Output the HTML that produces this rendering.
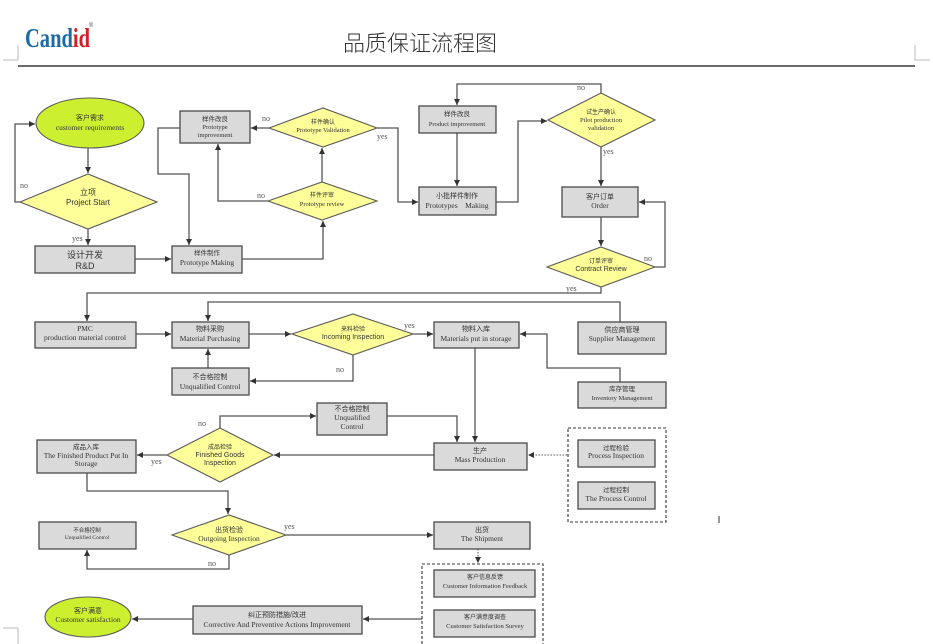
<!DOCTYPE html>
<html><head><meta charset="utf-8"><style>
html,body{margin:0;padding:0;background:#fff;}
svg{display:block;}
.b{fill:#dadada;stroke:#4a4a4a;stroke-width:1.3;}
.d{fill:#ffff99;stroke:#5a5a5a;stroke-width:1.1;}
.e{fill:#ccf030;stroke:#5a5a5a;stroke-width:1.1;}
.l{fill:none;stroke:#555;stroke-width:1.3;}
.dot{fill:none;stroke:#777;stroke-width:1.3;stroke-dasharray:1.5 1.5;}
.dash{fill:none;stroke:#333;stroke-width:1.1;stroke-dasharray:3 2;}
text{fill:#333;text-anchor:middle;}
.c{font-family:"Liberation Sans","Noto Sans CJK SC",sans-serif;font-size:7px;}
.s{font-family:"Liberation Serif","Noto Serif CJK SC",serif;font-size:7.5px;}
.a{font-family:"Liberation Sans",sans-serif;font-size:7px;}
.lb{font-family:"Liberation Serif",serif;font-size:8px;fill:#555;text-anchor:start;}
</style></head><body>
<svg width="933" height="644" viewBox="0 0 933 644" xmlns="http://www.w3.org/2000/svg">
<defs>
<marker id="ar" markerUnits="userSpaceOnUse" markerWidth="7" markerHeight="6" refX="6" refY="3" orient="auto"><path d="M0,0 L6,3 L0,6 z" fill="#333"/></marker>
</defs>

<!-- header -->
<text x="25" y="47" style="font-family:'Liberation Serif',serif;font-weight:bold;font-size:27px;text-anchor:start;fill:#1d6aa5" transform="translate(25,0) scale(0.76,1) translate(-25,0)">Cand<tspan fill="#d0202a">id</tspan></text>
<text x="91" y="27" style="font-family:'Liberation Sans',sans-serif;font-size:6px;fill:#555">®</text>
<text x="420" y="51" style="font-family:'Noto Sans CJK SC',sans-serif;font-size:22px;fill:#333;font-weight:300">品质保证流程图</text>
<line x1="18" y1="66" x2="915" y2="66" stroke="#6a6a6a" stroke-width="2"/>
<path d="M18,45 V60 H3" fill="none" stroke="#bbb" stroke-width="1"/>
<path d="M915,45 V60 H930" fill="none" stroke="#bbb" stroke-width="1"/>
<path d="M3,628 H18 V644" fill="none" stroke="#bbb" stroke-width="1"/>
<line x1="719" y1="516" x2="719" y2="523" stroke="#333" stroke-width="1"/>

<!-- connectors -->
<path class="l" d="M88,148 V173" marker-end="url(#ar)"/>
<path class="l" d="M20,202 H15 V124 H35" marker-end="url(#ar)"/>
<path class="l" d="M88,229 V245" marker-end="url(#ar)"/>
<path class="l" d="M135,259 H171" marker-end="url(#ar)"/>
<path class="l" d="M242,259 H323 V221" marker-end="url(#ar)"/>
<path class="l" d="M322,182 V148" marker-end="url(#ar)"/>
<path class="l" d="M268,201 H218 V144" marker-end="url(#ar)"/>
<path class="l" d="M269,128 H251" marker-end="url(#ar)"/>
<path class="l" d="M180,128 H158 V174 H189 V245" marker-end="url(#ar)"/>
<path class="l" d="M377,128 H398 V202 H418" marker-end="url(#ar)"/>
<path class="l" d="M457,133 V186" marker-end="url(#ar)"/>
<path class="l" d="M601,93 V84 H457 V105" marker-end="url(#ar)"/>
<path class="l" d="M496,202 H518 V121 H547" marker-end="url(#ar)"/>
<path class="l" d="M601,147 V186" marker-end="url(#ar)"/>
<path class="l" d="M601,217 V246" marker-end="url(#ar)"/>
<path class="l" d="M655,267 H665 V202 H639" marker-end="url(#ar)"/>
<path class="l" d="M601,287 V293 H87 V321" marker-end="url(#ar)"/>
<path class="l" d="M620,322 V302 H208 V321" marker-end="url(#ar)"/>
<path class="l" d="M136,334 H171" marker-end="url(#ar)"/>
<path class="l" d="M249,334 H291" marker-end="url(#ar)"/>
<path class="l" d="M413,334 H433" marker-end="url(#ar)"/>
<path class="l" d="M353,355 V381 H250" marker-end="url(#ar)"/>
<path class="l" d="M208,368 V349" marker-end="url(#ar)"/>
<path class="l" d="M620,382 V368 H547 V334 H520" marker-end="url(#ar)"/>
<path class="l" d="M475,348 V442" marker-end="url(#ar)"/>
<path class="l" d="M387,416 H457 V442" marker-end="url(#ar)"/>
<path class="l" d="M220,428 V416 H316" marker-end="url(#ar)"/>
<path class="l" d="M434,455 H274" marker-end="url(#ar)"/>
<path class="l" d="M167,455 H137" marker-end="url(#ar)"/>
<path class="dot" d="M567,455 H528" marker-end="url(#ar)"/>
<path class="l" d="M87,473 V491 H228 V514" marker-end="url(#ar)"/>
<path class="l" d="M286,535 H433" marker-end="url(#ar)"/>
<path class="l" d="M229,555 V569 H87 V550" marker-end="url(#ar)"/>
<path class="dot" d="M478,549 V563" marker-end="url(#ar)"/>
<path class="l" d="M422,619 H363" marker-end="url(#ar)"/>
<path class="l" d="M193,619 H132" marker-end="url(#ar)"/>

<!-- connector labels -->
<text class="lb" x="20" y="188">no</text>
<text class="lb" x="72" y="241">yes</text>
<text class="lb" x="257" y="198">no</text>
<text class="lb" x="262" y="121">no</text>
<text class="lb" x="377" y="139">yes</text>
<text class="lb" x="577" y="90">no</text>
<text class="lb" x="603" y="154">yes</text>
<text class="lb" x="644" y="261">no</text>
<text class="lb" x="566" y="291">yes</text>
<text class="lb" x="404" y="328">yes</text>
<text class="lb" x="336" y="372">no</text>
<text class="lb" x="198" y="426">no</text>
<text class="lb" x="151" y="464">yes</text>
<text class="lb" x="284" y="529">yes</text>
<text class="lb" x="208" y="566">no</text>

<!-- ellipses -->
<ellipse class="e" cx="90" cy="123" rx="54" ry="25"/>
<text class="c" x="90" y="120">客户需求</text>
<text class="s" x="90" y="130">customer requirements</text>
<ellipse class="e" cx="88" cy="617" rx="43" ry="20"/>
<text class="c" x="88" y="613">客户满意</text>
<text class="s" x="88" y="622">Customer satisfaction</text>

<!-- diamonds -->
<polygon class="d" points="20,202 88,174 157,202 88,229"/>
<text class="c" x="88" y="195" style="font-size:8px">立项</text>
<text class="a" x="88" y="205" style="font-size:8px">Project Start</text>
<polygon class="d" points="269,128 323,108 377,128 323,147"/>
<text class="c" x="323" y="124" style="font-size:6px">样件确认</text>
<text class="s" x="323" y="132" style="font-size:6.5px">Prototype Validation</text>
<polygon class="d" points="268,201 322,182 377,201 322,220"/>
<text class="c" x="322" y="197" style="font-size:6px">样件评审</text>
<text class="s" x="322" y="206" style="font-size:6.5px">Prototype review</text>
<polygon class="d" points="548,120 601,93 655,120 601,147"/>
<text class="c" x="601" y="114" style="font-size:6px">试生产确认</text>
<text class="s" x="601" y="122" style="font-size:6.5px">Pilot production</text>
<text class="s" x="601" y="130" style="font-size:6.5px">validation</text>
<polygon class="d" points="547,267 601,247 655,267 601,287"/>
<text class="c" x="601" y="263" style="font-size:6px">订单评审</text>
<text class="a" x="601" y="271">Contract Review</text>
<polygon class="d" points="292,334 353,314 413,334 353,355"/>
<text class="c" x="353" y="331" style="font-size:6px">来料检验</text>
<text class="a" x="353" y="339">Incoming Inspection</text>
<polygon class="d" points="167,455 220,428 273,455 220,482"/>
<text class="c" x="220" y="449" style="font-size:6px">成品检验</text>
<text class="a" x="220" y="457">Finished Goods</text>
<text class="a" x="220" y="465">Inspection</text>
<polygon class="d" points="172,535 229,515 286,535 229,555"/>
<text class="c" x="229" y="532">出货检验</text>
<text class="s" x="229" y="541">Outgoing Inspection</text>

<!-- boxes -->
<rect class="b" x="35" y="246" width="100" height="27"/>
<text class="c" x="85" y="258" style="font-size:9px">设计开发</text>
<text class="a" x="85" y="269" style="font-size:9px">R&amp;D</text>
<rect class="b" x="172" y="246" width="70" height="27"/>
<text class="c" x="207" y="255" style="font-size:6.5px">样件制作</text>
<text class="s" x="207" y="265">Prototype Making</text>
<rect class="b" x="180" y="111" width="70" height="32"/>
<text class="c" x="215" y="121" style="font-size:6.5px">样件改良</text>
<text class="s" x="215" y="129" style="font-size:6.5px">Prototype</text>
<text class="s" x="215" y="137" style="font-size:6.5px">improvement</text>
<rect class="b" x="419" y="106" width="77" height="27"/>
<text class="c" x="457" y="116" style="font-size:6.5px">样件改良</text>
<text class="s" x="457" y="126" style="font-size:6.5px">Product improvement</text>
<rect class="b" x="419" y="187" width="77" height="28"/>
<text class="c" x="457" y="198">小批样件制作</text>
<text class="s" x="457" y="208">Prototypes&#160;&#160;&#160; Making</text>
<rect class="b" x="562" y="187" width="76" height="30"/>
<text class="c" x="600" y="199">客户订单</text>
<text class="s" x="600" y="208">Order</text>
<rect class="b" x="35" y="322" width="101" height="26"/>
<text class="s" x="85" y="331">PMC</text>
<text class="s" x="85" y="340">production material control</text>
<rect class="b" x="172" y="322" width="77" height="26"/>
<text class="c" x="210" y="331">物料采购</text>
<text class="s" x="210" y="341">Material Purchasing</text>
<rect class="b" x="434" y="322" width="85" height="26"/>
<text class="c" x="476" y="331">物料入库</text>
<text class="s" x="476" y="341">Materials put in storage</text>
<rect class="b" x="578" y="322" width="88" height="32"/>
<text class="c" x="622" y="332">供应商管理</text>
<text class="s" x="622" y="341">Supplier Management</text>
<rect class="b" x="578" y="382" width="88" height="26"/>
<text class="c" x="622" y="391" style="font-size:6.5px">库存管理</text>
<text class="s" x="622" y="400" style="font-size:6.5px">Inventory Management</text>
<rect class="b" x="172" y="368" width="77" height="27"/>
<text class="c" x="210" y="379">不合格控制</text>
<text class="s" x="210" y="389">Unqualified Control</text>
<rect class="b" x="317" y="403" width="70" height="32"/>
<text class="c" x="352" y="411">不合格控制</text>
<text class="s" x="352" y="420">Unqualified</text>
<text class="s" x="352" y="429">Control</text>
<rect class="b" x="37" y="440" width="99" height="33"/>
<text class="c" x="86" y="449" style="font-size:6.5px">成品入库</text>
<text class="s" x="86" y="458">The Finished Product Put In</text>
<text class="s" x="86" y="466">Storage</text>
<rect class="b" x="434" y="443" width="93" height="27"/>
<text class="c" x="480" y="453">生产</text>
<text class="s" x="480" y="462">Mass Production</text>
<rect class="dash" x="568" y="428" width="98" height="94"/>
<rect class="b" x="578" y="440" width="77" height="27"/>
<text class="c" x="616" y="450" style="font-size:6.5px">过程检验</text>
<text class="s" x="616" y="458">Process Inspection</text>
<rect class="b" x="578" y="482" width="77" height="27"/>
<text class="c" x="616" y="492" style="font-size:6.5px">过程控制</text>
<text class="s" x="616" y="501">The Process Control</text>
<rect class="b" x="434" y="522" width="96" height="27"/>
<text class="c" x="482" y="532">出货</text>
<text class="s" x="482" y="541">The Shipment</text>
<rect class="dash" x="422" y="564" width="121" height="84"/>
<rect class="b" x="434" y="570" width="101" height="27"/>
<text class="c" x="485" y="579" style="font-size:6px">客户信息反馈</text>
<text class="s" x="485" y="588" style="font-size:6.5px">Customer Information Feedback</text>
<rect class="b" x="434" y="610" width="101" height="27"/>
<text class="c" x="485" y="619" style="font-size:6px">客户满意度调查</text>
<text class="s" x="485" y="628" style="font-size:6.5px">Customer Satisfaction Survey</text>
<rect class="b" x="39" y="522" width="97" height="27"/>
<text class="c" x="87" y="532" style="font-size:5.5px">不合格控制</text>
<text class="s" x="87" y="539" style="font-size:5.5px">Unqualified Control</text>
<rect class="b" x="193" y="606" width="169" height="28"/>
<text class="c" x="277" y="617">纠正预防措施/改进</text>
<text class="s" x="277" y="627">Corrective And Preventive Actions Improvement</text>
</svg>
</body></html>
